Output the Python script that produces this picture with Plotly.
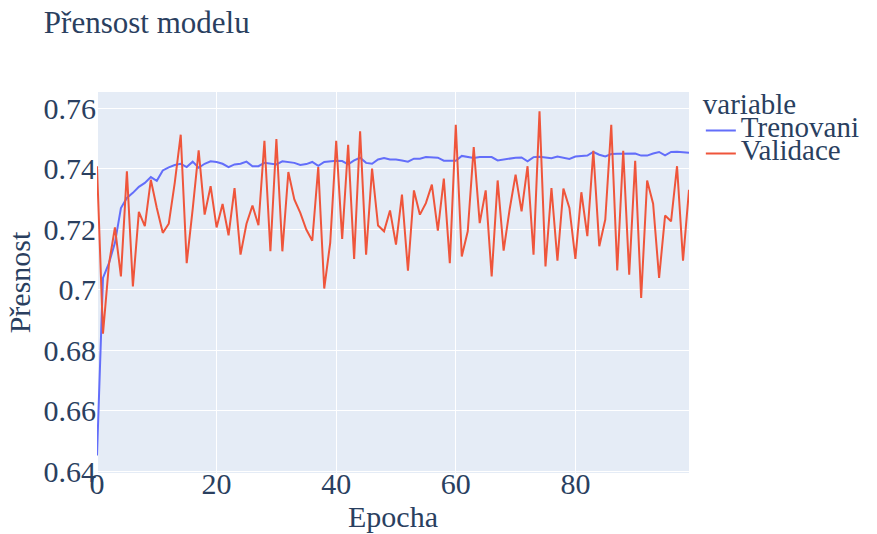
import plotly.graph_objects as go

epochs = list(range(100))

trenovani = [
    0.6453, 0.7039, 0.7088, 0.7155, 0.7270, 0.7303, 0.7320, 0.7340, 0.7353, 0.7372,
    0.7360, 0.7394, 0.7404, 0.7412, 0.7416, 0.7405, 0.7423, 0.7403, 0.7416, 0.7424,
    0.7422, 0.7416, 0.7405, 0.7414, 0.7416, 0.7423, 0.7408, 0.7408, 0.7419, 0.7417,
    0.7414, 0.7424, 0.7422, 0.7419, 0.7412, 0.7415, 0.7422, 0.7409, 0.7422, 0.7425,
    0.7426, 0.7425, 0.7414, 0.7427, 0.7436, 0.7419, 0.7416, 0.7430, 0.7435, 0.7430,
    0.7430, 0.7427, 0.7423, 0.7433, 0.7433, 0.7438, 0.7436, 0.7436, 0.7426, 0.7425,
    0.7426, 0.7442, 0.7438, 0.7435, 0.7438, 0.7438, 0.7438, 0.7427, 0.7430, 0.7435,
    0.7436, 0.7437, 0.7424, 0.7438, 0.7439, 0.7437, 0.7434, 0.7440, 0.7436, 0.7432,
    0.7440, 0.7442, 0.7443, 0.7455, 0.7446, 0.7440, 0.7448, 0.7449, 0.7450, 0.7450,
    0.7450, 0.7443, 0.7443, 0.7450, 0.7455, 0.7444, 0.7455, 0.7456, 0.7454, 0.7452,
]

validace = [
    0.7408, 0.6855, 0.7085, 0.7206, 0.7044, 0.7391, 0.7011, 0.7257, 0.7210, 0.7363,
    0.7270, 0.7188, 0.7218, 0.7353, 0.7512, 0.7088, 0.7266, 0.7460, 0.7248, 0.7342,
    0.7206, 0.7283, 0.7180, 0.7336, 0.7116, 0.7218, 0.7278, 0.7213, 0.7492, 0.7127,
    0.7498, 0.7127, 0.7389, 0.7298, 0.7254, 0.7199, 0.7162, 0.7405, 0.7004, 0.7155,
    0.7492, 0.7168, 0.7479, 0.7102, 0.7523, 0.7116, 0.7400, 0.7212, 0.7193, 0.7262,
    0.7149, 0.7314, 0.7063, 0.7328, 0.7248, 0.7286, 0.7347, 0.7195, 0.7367, 0.7088,
    0.7545, 0.7110, 0.7193, 0.7471, 0.7220, 0.7328, 0.7044, 0.7361, 0.7129, 0.7265,
    0.7380, 0.7259, 0.7408, 0.7116, 0.7589, 0.7077, 0.7336, 0.7096, 0.7334, 0.7270,
    0.7102, 0.7322, 0.7177, 0.7459, 0.7144, 0.7232, 0.7545, 0.7064, 0.7459, 0.7050,
    0.7426, 0.6973, 0.7361, 0.7284, 0.7039, 0.7245, 0.7226, 0.7408, 0.7096, 0.7330,
]

series_names = ["Trenovani", "Validace"]
legend_title = "variable"
chart_title = "Přensost modelu"
x_title = "Epocha"
y_title = "Přesnost"

FONT = "Liberation Serif, Times New Roman, serif"
TXT = "#2a3f5f"
BIG = 29


def big(t, size=BIG):
    return f"<span style='font-size:{size}px'>{t}</span>"


fig = go.Figure()
fig.add_trace(go.Scatter(x=epochs, y=trenovani, mode="lines", name=big(series_names[0]),
                         line=dict(color="#636efa", width=2)))
fig.add_trace(go.Scatter(x=epochs, y=validace, mode="lines", name=big(series_names[1]),
                         line=dict(color="#EF553B", width=2)))

fig.update_layout(
    width=877, height=534,
    template="plotly",
    font=dict(family=FONT, size=28, color=TXT),
    title=dict(text=chart_title, x=0.05, xanchor="left", y=1 - 22 / 534, yanchor="middle",
               font=dict(family=FONT, size=31, color=TXT)),
    margin=dict(l=97, r=186, t=92, b=61),
    plot_bgcolor="#E5ECF6",
    legend=dict(title=dict(text=big(legend_title), font=dict(size=15.4)),
                font=dict(size=15.4), x=1.02, y=1.0 - 2 / 381, xanchor="left", yanchor="top",
                tracegroupgap=0),
    xaxis=dict(title=dict(text=x_title, font=dict(size=30), standoff=0),
               range=[0, 99], dtick=20, tick0=0, automargin=False,
               gridcolor="white", zeroline=True, zerolinecolor="white", zerolinewidth=2,
               tickfont=dict(size=30), ticklabelstandoff=-10),
    yaxis=dict(title=dict(text=y_title, font=dict(size=30), standoff=4),
               range=[0.6395, 0.7653], dtick=0.02, tick0=0.64, automargin=False,
               gridcolor="white", zerolinecolor="white",
               tickfont=dict(size=30)),
)

fig.write_html("out.html")
